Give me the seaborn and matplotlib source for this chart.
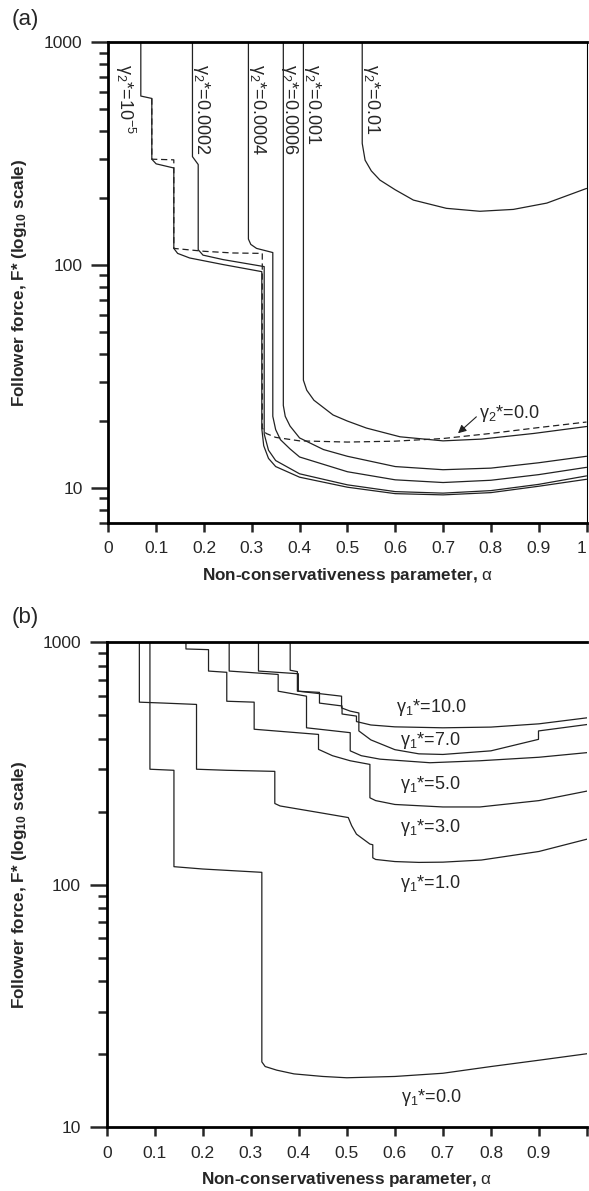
import numpy as np
import pandas as pd
import matplotlib
matplotlib.use("Agg")
import matplotlib.pyplot as plt
import seaborn as sns
from matplotlib.ticker import FixedLocator, LogLocator, NullFormatter

sns.set_style("ticks")
plt.rcParams['font.family'] = ['Liberation Sans', 'DejaVu Sans']
plt.rcParams['mathtext.fontset'] = 'custom'
plt.rcParams['mathtext.rm'] = 'Liberation Sans'
plt.rcParams['mathtext.it'] = 'Liberation Sans:italic'
plt.rcParams['mathtext.bf'] = 'Liberation Sans:bold'
plt.rcParams['mathtext.default'] = 'regular'

# ---------------- Panel (a) data: gamma2* curves ----------------
a_g1e5_alpha = [0.068, 0.068, 0.091, 0.091, 0.100, 0.137, 0.137, 0.145, 0.170, 0.240, 0.321, 0.321,
                0.325, 0.335, 0.350, 0.400, 0.500, 0.600, 0.700, 0.800, 0.900, 1.000]
a_g1e5_F = [1000, 574, 560, 299, 285, 273, 119, 113, 107.8, 100.7, 93.6, 18.5,
            15.5, 13.6, 12.5, 11.2, 10.1, 9.45, 9.33, 9.55, 10.2, 10.96]

a_g2e4_alpha = [0.176, 0.176, 0.188, 0.188, 0.198, 0.240, 0.326, 0.326, 0.335, 0.350, 0.400,
                0.500, 0.600, 0.700, 0.800, 0.900, 1.000]
a_g2e4_F = [1000, 307, 283, 117.4, 111, 106, 98.6, 17.5, 14.8, 13.3, 11.6,
            10.35, 9.65, 9.5, 9.75, 10.4, 11.35]

a_g4e4_alpha = [0.293, 0.293, 0.298, 0.310, 0.344, 0.344, 0.350, 0.360, 0.380, 0.400, 0.500,
                0.600, 0.700, 0.800, 0.900, 1.000]
a_g4e4_F = [1000, 131, 124, 119, 114, 21, 18.3, 16.5, 15.0, 13.8, 11.85,
            10.9, 10.6, 10.85, 11.5, 12.4]

a_g6e4_alpha = [0.366, 0.366, 0.370, 0.380, 0.400, 0.450, 0.500, 0.600, 0.700, 0.800, 0.900, 1.000]
a_g6e4_F = [1000, 23.5, 21.0, 19.0, 16.8, 14.9, 13.9, 12.5, 12.1, 12.3, 13.0, 13.9]

a_g1e3_alpha = [0.408, 0.408, 0.415, 0.430, 0.470, 0.500, 0.540, 0.610, 0.700, 0.780, 0.890, 1.000]
a_g1e3_F = [1000, 30.5, 27.5, 24.8, 21.3, 20.0, 18.6, 17.0, 16.3, 16.6, 17.6, 18.9]

a_g1e2_alpha = [0.531, 0.531, 0.537, 0.550, 0.568, 0.600, 0.638, 0.707, 0.777, 0.847, 0.917, 1.000]
a_g1e2_F = [1000, 352, 296, 265, 241, 218, 196, 180, 174.6, 178, 190, 221]

a_g0_alpha = [0.091, 0.091, 0.137, 0.137, 0.200, 0.260, 0.322, 0.322, 0.330, 0.350, 0.400,
              0.500, 0.600, 0.700, 0.800, 0.900, 1.000]
a_g0_F = [560, 299, 297, 119, 115.5, 113.5, 113, 18.6, 17.6, 16.9, 16.3,
          16.1, 16.25, 16.7, 17.6, 18.7, 19.8]

a_labels = ["γ$_2$*=10$^{-5}$", "γ$_2$*=0.0002", "γ$_2$*=0.0004",
            "γ$_2$*=0.0006", "γ$_2$*=0.001", "γ$_2$*=0.01"]
a_label_alpha = [0.035, 0.195, 0.312, 0.379, 0.427, 0.550]

# ---------------- Panel (b) data: gamma1* curves ----------------
b_g0_alpha = [0.090, 0.090, 0.140, 0.140, 0.200, 0.323, 0.323, 0.330, 0.354, 0.390, 0.450,
              0.500, 0.600, 0.700, 0.800, 0.900, 1.000]
b_g0_F = [1000, 299, 296, 118.6, 116, 112.4, 18.6, 17.8, 17.2, 16.6, 16.2,
          16.0, 16.2, 16.7, 17.8, 18.9, 20.1]

b_g1_alpha = [0.068, 0.068, 0.120, 0.187, 0.187, 0.250, 0.350, 0.350, 0.361, 0.450, 0.503, 0.510,
              0.520, 0.548, 0.554, 0.554, 0.560, 0.600, 0.650, 0.700, 0.780, 0.900, 1.000]
b_g1_F = [1000, 565, 560, 553, 299, 296, 293, 216, 211, 197, 189, 175,
          161.5, 147, 146, 129, 127, 124.5, 123.5, 123.8, 126.3, 137, 154]

b_g3_alpha = [0.165, 0.165, 0.212, 0.212, 0.250, 0.250, 0.307, 0.307, 0.441, 0.441, 0.470, 0.507,
              0.548, 0.548, 0.560, 0.600, 0.700, 0.777, 0.900, 1.000]
b_g3_F = [1000, 936, 930, 759, 750, 570, 565, 437, 416, 361, 340, 324,
          313, 228, 222, 214, 209, 209, 222, 243]

b_g5_alpha = [0.255, 0.255, 0.357, 0.357, 0.416, 0.416, 0.507, 0.507, 0.530, 0.569, 0.673, 0.777,
              0.900, 1.000]
b_g5_F = [1000, 759, 735, 627, 598, 443, 423, 356, 340, 329, 318, 324, 335, 350]

b_g7_alpha = [0.316, 0.316, 0.399, 0.399, 0.489, 0.489, 0.507, 0.525, 0.525, 0.550, 0.600, 0.650,
              0.700, 0.800, 0.899, 0.899, 1.000]
b_g7_F = [1000, 759, 740, 627, 598, 535, 519, 510, 430, 395, 360, 346,
          344, 356, 397, 430, 457]

b_g10_alpha = [0.382, 0.382, 0.397, 0.397, 0.443, 0.443, 0.490, 0.490, 0.520, 0.520, 0.550, 0.600,
               0.700, 0.800, 0.900, 1.000]
b_g10_F = [1000, 765, 755, 627, 620, 560, 545, 505, 495, 470, 455, 447,
           443, 446, 460, 487]

b_labels = ["γ$_1$*=10.0", "γ$_1$*=7.0", "γ$_1$*=5.0",
            "γ$_1$*=3.0", "γ$_1$*=1.0", "γ$_1$*=0.0"]
b_label_alpha = [0.675, 0.673, 0.673, 0.673, 0.673, 0.675]
b_label_F = [537, 391, 258, 172, 101, 13.3]

xtick_vals = [0, 0.1, 0.2, 0.3, 0.4, 0.5, 0.6, 0.7, 0.8, 0.9, 1.0]
xtick_labels_a = ["0", "0.1", "0.2", "0.3", "0.4", "0.5", "0.6", "0.7", "0.8", "0.9", "1"]
xtick_labels_b = ["0", "0.1", "0.2", "0.3", "0.4", "0.5", "0.6", "0.7", "0.8", "0.9", ""]
ytick_vals = [10, 100, 1000]
ytick_labels = ["10", "100", "1000"]

LC = "#222222"
LW = 0.9

W, H = 589, 1191
fig = plt.figure(figsize=(W / 100, H / 100), dpi=100)
ax1 = fig.add_axes([108.3 / W, 1 - 522.7 / H, 478.2 / W, 480.4 / H])
ax2 = fig.add_axes([106.7 / W, 1 - 1127.3 / H, 480.3 / W, 485.3 / H])


def draw(ax, a, f, dashed=False):
    df = pd.DataFrame({"alpha": a, "F": f})
    sns.lineplot(data=df, x="alpha", y="F", sort=False, estimator=None, ax=ax,
                 color=LC, lw=LW, linestyle=(0, (5, 3)) if dashed else "-")


for a, f in [(a_g1e5_alpha, a_g1e5_F), (a_g2e4_alpha, a_g2e4_F), (a_g4e4_alpha, a_g4e4_F),
             (a_g6e4_alpha, a_g6e4_F), (a_g1e3_alpha, a_g1e3_F), (a_g1e2_alpha, a_g1e2_F)]:
    draw(ax1, a, f)
draw(ax1, a_g0_alpha, a_g0_F, dashed=True)

for a, f in [(b_g0_alpha, b_g0_F), (b_g1_alpha, b_g1_F), (b_g3_alpha, b_g3_F),
             (b_g5_alpha, b_g5_F), (b_g7_alpha, b_g7_F), (b_g10_alpha, b_g10_F)]:
    draw(ax2, a, f)

TICKFS = 12.5
LABFS = 12.3

for ax, ylo, xl in [(ax1, 7, xtick_labels_a), (ax2, 10, xtick_labels_b)]:
    ax.set_yscale("log")
    ax.set_xlim(0, 1)
    ax.set_ylim(ylo, 1000)
    ax.set_xticks(xtick_vals)
    ax.set_xticklabels(xl, fontsize=TICKFS)
    ax.yaxis.set_major_locator(FixedLocator(ytick_vals))
    ax.set_yticklabels(ytick_labels, fontsize=TICKFS)
    ax.yaxis.set_minor_locator(LogLocator(base=10, subs=np.arange(2, 10)))
    ax.yaxis.set_minor_formatter(NullFormatter())
    ax.tick_params(axis="y", which="major", length=12, width=1.8, pad=6.5, direction="out")
    ax.tick_params(axis="y", which="minor", length=6.5, width=1.8, direction="out")
    ax.tick_params(axis="x", which="major", length=6.5, width=1.8, pad=7, direction="out")
    for s in ["left", "bottom", "top"]:
        ax.spines[s].set_linewidth(2.0)
        ax.spines[s].set_color("black")
    ax.set_xlabel(r"Non-conservativeness parameter, $\mathrm{\alpha}$", fontsize=LABFS,
                  fontweight="bold")
    ax.set_ylabel(r"Follower force, F* (log$_{\mathbf{10}}$ scale)", fontsize=LABFS,
                  fontweight="bold")

# keep the last "1" label of panel (a) inside the figure
ax1.get_xticklabels()[-1].set_horizontalalignment("right")

ax1.spines["right"].set_linewidth(0.8)
ax1.spines["right"].set_color("black")
ax2.spines["right"].set_visible(False)

ax1.xaxis.set_label_coords(0.5, -0.090)
ax2.xaxis.set_label_coords(0.5, -0.087)
ax1.yaxis.set_label_coords(-0.165, 0.5)
ax2.yaxis.set_label_coords(-0.162, 0.5)

for lab, xa in zip(a_labels, a_label_alpha):
    ax1.text(xa, 800, lab, rotation=270, ha="center", va="top", fontsize=13)

ax1.text(0.776, 19.5, "γ$_2$*=0.0", ha="left", va="bottom", fontsize=13)
ax1.annotate("", xy=(0.727, 17.3), xytext=(0.774, 21.3),
             arrowprops=dict(arrowstyle="-|>", color=LC, lw=0.8, mutation_scale=12))

for lab, xa, fy in zip(b_labels, b_label_alpha, b_label_F):
    ax2.text(xa, fy, lab, ha="center", va="center", fontsize=13)

fig.text(12 / W, 1 - 19 / H, "(a)", ha="left", va="center", fontsize=16)
fig.text(12 / W, 1 - 618 / H, "(b)", ha="left", va="center", fontsize=16)

fig.savefig("out.png", dpi=100)
